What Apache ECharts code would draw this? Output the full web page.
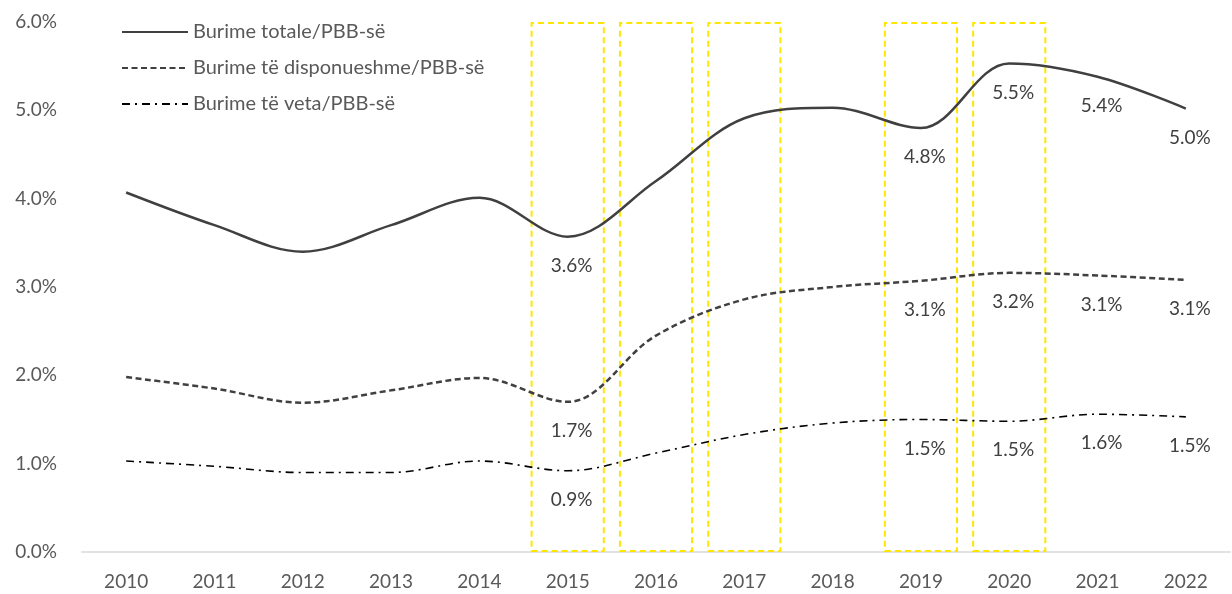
<!DOCTYPE html>
<html>
<head>
<meta charset="utf-8">
<script src="https://cdn.jsdelivr.net/npm/echarts@6/dist/echarts.min.js"></script>
<style>
  html, body { margin: 0; padding: 0; background: #fff; }
</style>
</head>
<body>
<div id="chart" style="width: 1232px; height: 594px"></div>
<script>
// vitet
const years = ['2010', '2011', '2012', '2013', '2014', '2015', '2016', '2017', '2018', '2019', '2020', '2021', '2022'];
// seritë (% e PBB)
const totale = [4.07, 3.70, 3.40, 3.70, 4.01, 3.57, 4.20, 4.91, 5.03, 4.80, 5.53, 5.38, 5.02];
const disponueshme = [1.98, 1.85, 1.69, 1.83, 1.97, 1.70, 2.45, 2.86, 3.00, 3.07, 3.16, 3.13, 3.08];
const veta = [1.03, 0.97, 0.90, 0.90, 1.03, 0.92, 1.12, 1.33, 1.46, 1.50, 1.48, 1.56, 1.53];
// vitet e theksuara me kuti të verdha
const highlighted = ['2015', '2016', '2017', '2019', '2020'];
// vitet me etiketa
const labelled = ['2015', '2019', '2020', '2021', '2022'];
const yTicks = [0, 1, 2, 3, 4, 5, 6];

const textColor = '#404040';
const font = 'Lato, "Open Sans", sans-serif';

function withLabels(values) {
  return values.map((v, i) => ({
    value: v,
    label: { show: labelled.includes(years[i]) },
  }));
}

const labelStyle = {
  show: false,
  position: 'bottom',
  distance: 19,
  offset: [4, 0],
  fontSize: 19,
  color: textColor,
  fontFamily: font,
  formatter: (p) => p.value.toFixed(1) + '%',
};

function lineSeries(name, values, lineStyle) {
  return {
    name: name,
    type: 'line',
    smooth: 0.35,
    symbol: 'circle',
    symbolSize: 1,
    showSymbol: true,
    z: 3,
    data: withLabels(values),
    lineStyle: lineStyle,
    itemStyle: { color: 'rgba(0,0,0,0)' },
    label: labelStyle,
  };
}

const chart = echarts.init(document.getElementById('chart'));
chart.setOption({
  animation: false,
  textStyle: { fontFamily: font },
  grid: { left: 82, right: 2, top: 22, bottom: 42 },
  legend: {
    orient: 'vertical',
    left: 116,
    top: 17,
    itemWidth: 66,
    itemHeight: 16,
    itemGap: 16,
    itemStyle: { opacity: 0 },
    data: ['Burime totale/PBB-së', 'Burime të disponueshme/PBB-së', 'Burime të veta/PBB-së'],
    textStyle: { fontSize: 20, color: '#595959', fontFamily: font },
  },
  xAxis: {
    type: 'category',
    data: years,
    axisLine: { lineStyle: { color: '#d9d9d9', width: 1.5 } },
    axisTick: { show: false },
    axisLabel: { fontSize: 19, color: '#595959', margin: 20, fontFamily: font },
  },
  yAxis: {
    type: 'value',
    min: yTicks[0],
    max: yTicks[yTicks.length - 1],
    interval: 1,
    splitLine: { show: false },
    axisLabel: {
      fontSize: 19,
      color: '#595959',
      margin: 25,
      fontFamily: font,
      formatter: (v) => v.toFixed(1) + '%',
    },
  },
  series: [
    {
      name: 'kuti',
      type: 'bar',
      barWidth: '84%',
      z: 1,
      silent: true,
      data: years.map((y) => (highlighted.includes(y) ? yTicks[yTicks.length - 1] : '-')),
      itemStyle: {
        color: 'rgba(0,0,0,0)',
        borderColor: '#FFE600',
        borderWidth: 2,
        borderType: [6, 4],
      },
    },
    lineSeries('Burime totale/PBB-së', totale, { color: '#404040', width: 2.5 }),
    lineSeries('Burime të disponueshme/PBB-së', disponueshme, { color: '#404040', width: 2.5, type: [6, 3.5] }),
    lineSeries('Burime të veta/PBB-së', veta, { color: '#000000', width: 1.6, type: [8, 5, 2, 5] }),
  ],
});
</script>
</body>
</html>
